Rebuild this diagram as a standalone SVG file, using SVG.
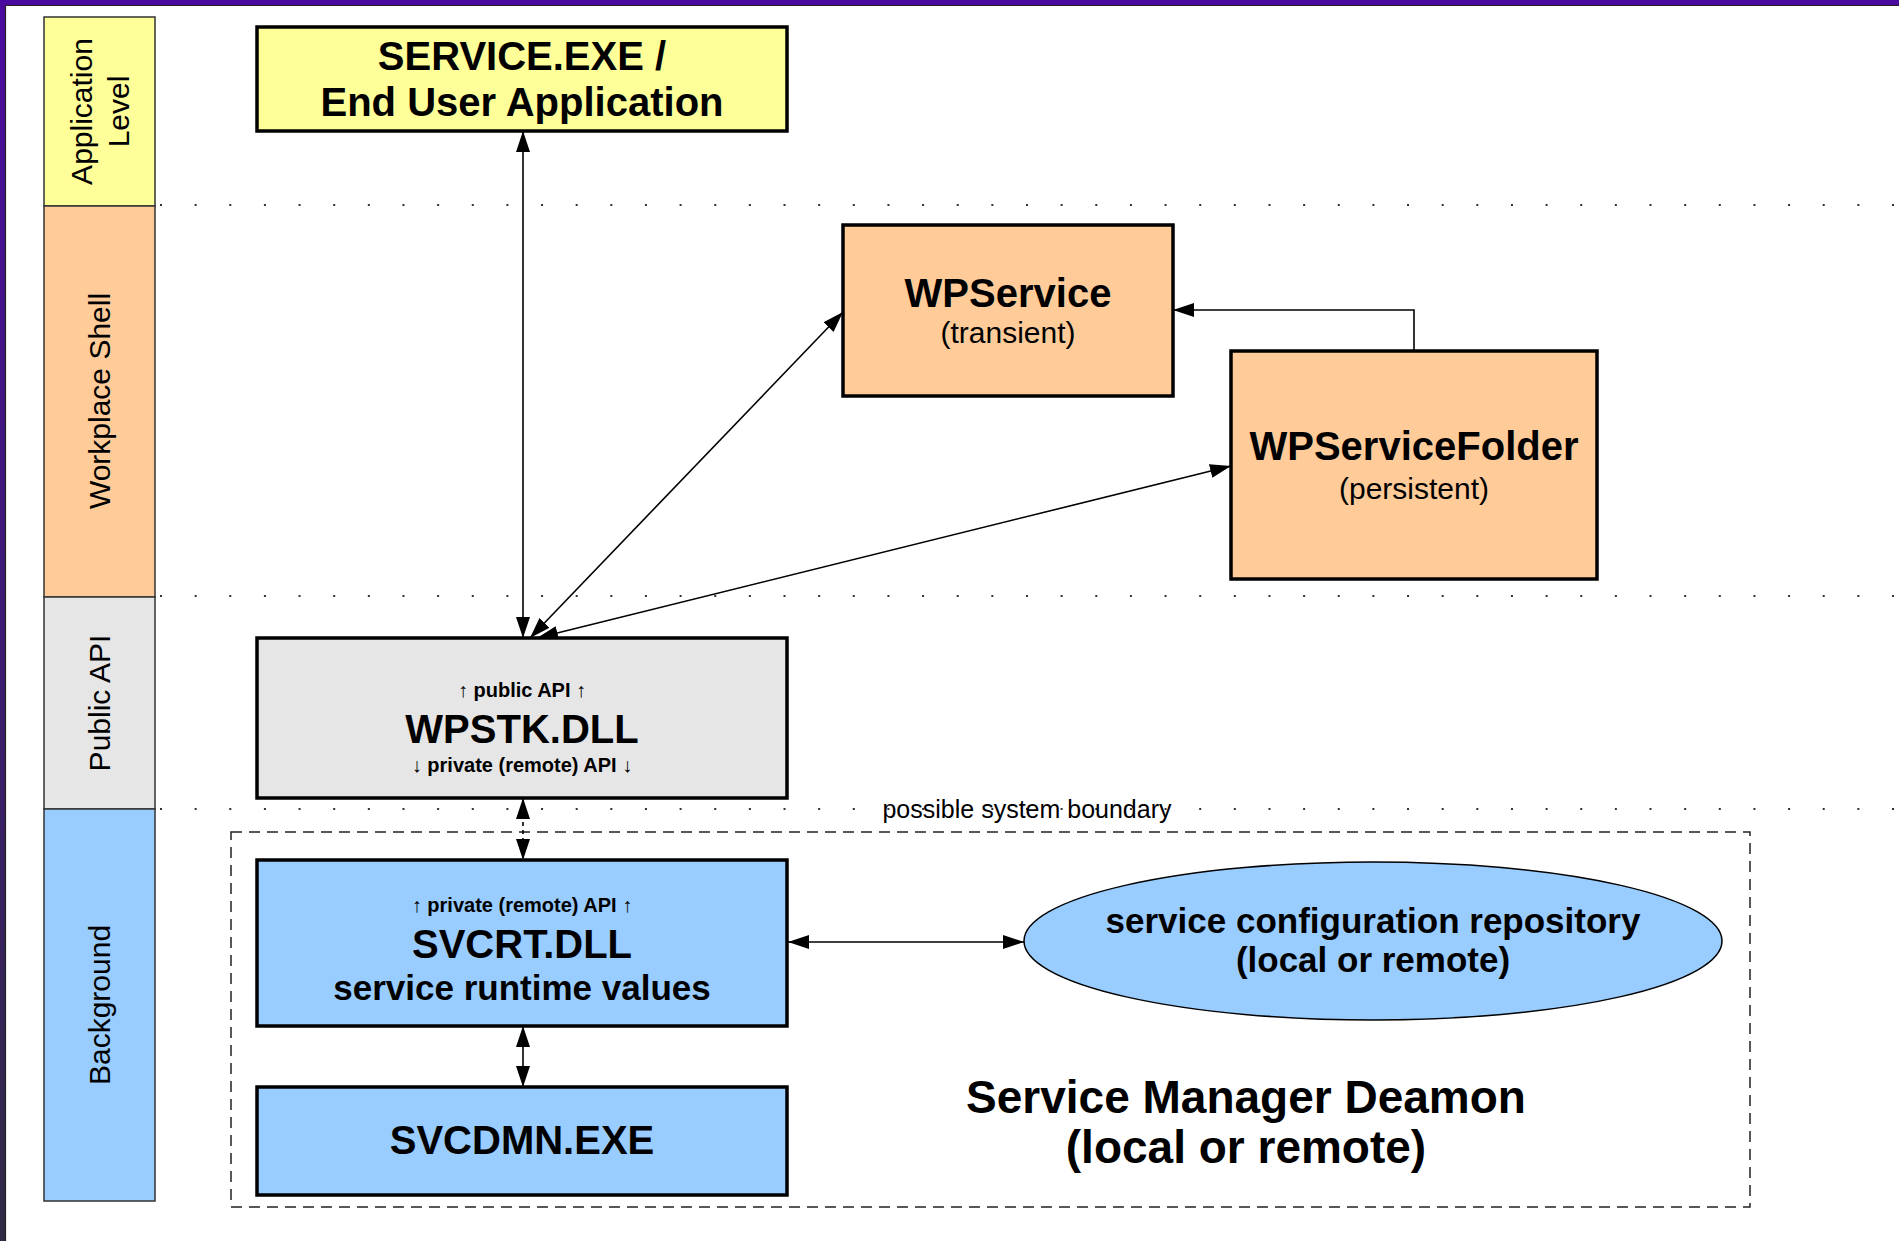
<svg xmlns="http://www.w3.org/2000/svg" width="1899" height="1241" viewBox="0 0 1899 1241">
<style>
.lane{stroke:#333;stroke-width:1.5}
.box{stroke:#000;stroke-width:3.5}
.lt{font-family:"Liberation Sans",Arial,sans-serif;font-size:30px;fill:#000;text-anchor:middle}
.b40{font-family:"Liberation Sans",Arial,sans-serif;font-size:40px;font-weight:bold;fill:#000;text-anchor:middle}
.b35{font-family:"Liberation Sans",Arial,sans-serif;font-size:35px;font-weight:bold;fill:#000;text-anchor:middle}
.b46{font-family:"Liberation Sans",Arial,sans-serif;font-size:46px;font-weight:bold;fill:#000;text-anchor:middle}
.s20{font-family:"Liberation Sans",Arial,sans-serif;font-size:20px;font-weight:bold;fill:#000;text-anchor:middle}
.r30{font-family:"Liberation Sans",Arial,sans-serif;font-size:30px;fill:#000;text-anchor:middle}
.dot{stroke:#333;stroke-width:2;stroke-dasharray:2 32.64;fill:none}
.con{stroke:#000;stroke-width:1.6;fill:none}
</style>
<defs>
<marker id="ah" markerUnits="userSpaceOnUse" markerWidth="21" markerHeight="14" refX="21" refY="7" orient="auto-start-reverse">
<path d="M0,0 L21,7 L0,14 z" fill="#000"/>
</marker>
<linearGradient id="lg" x1="0" y1="0" x2="0" y2="1">
<stop offset="0" stop-color="#4a0aa0"/>
<stop offset="1" stop-color="#302a45"/>
</linearGradient>
</defs>
<rect x="0" y="0" width="1899" height="1241" fill="#fff"/>
<rect x="0" y="0" width="5" height="1241" fill="url(#lg)"/>
<line x1="5.5" y1="5" x2="5.5" y2="1241" stroke="#222" stroke-width="1.2"/>
<rect x="0" y="0" width="1899" height="5" fill="#4a0aa0"/>
<line x1="5" y1="5.5" x2="1899" y2="5.5" stroke="#222" stroke-width="1.2"/>

<g id="lanes">
<rect class="lane" x="44" y="17" width="111" height="189" fill="#ffff99"/>
<rect class="lane" x="44" y="206" width="111" height="391" fill="#ffcc99"/>
<rect class="lane" x="44" y="597" width="111" height="212" fill="#e6e6e6"/>
<rect class="lane" x="44" y="809" width="111" height="392" fill="#99ccff"/>
<text class="lt" transform="translate(91.5,111.5) rotate(-90)">Application</text>
<text class="lt" transform="translate(128.5,111.5) rotate(-90)">Level</text>
<text class="lt" transform="translate(110,401) rotate(-90)">Workplace Shell</text>
<text class="lt" transform="translate(110,703) rotate(-90)">Public API</text>
<text class="lt" transform="translate(110,1005) rotate(-90)">Background</text>
</g>

<g id="separators">
<line class="dot" x1="160" y1="205" x2="1899" y2="205"/>
<line class="dot" x1="160" y1="596" x2="1899" y2="596"/>
<line class="dot" x1="160" y1="809" x2="1899" y2="809"/>
</g>

<g id="boundary">
<rect x="231" y="832" width="1519" height="375" fill="none" stroke="#222" stroke-width="1.5" stroke-dasharray="11 7"/>
<text x="1027" y="818" style="font-family:'Liberation Sans',Arial,sans-serif;font-size:25px;fill:#000;text-anchor:middle">possible system boundary</text>
<text class="b46" x="1246" y="1113">Service Manager Deamon</text>
<text class="b46" x="1246" y="1163">(local or remote)</text>
</g>

<g id="connectors">
<line class="con" x1="523" y1="131" x2="523" y2="638" marker-start="url(#ah)" marker-end="url(#ah)"/>
<line class="con" x1="530" y1="638" x2="843" y2="312" marker-start="url(#ah)" marker-end="url(#ah)"/>
<line class="con" x1="537" y1="638" x2="1231" y2="466" marker-start="url(#ah)" marker-end="url(#ah)"/>
<polyline class="con" points="1414,351 1414,310 1173,310" marker-end="url(#ah)"/>
<line class="con" x1="523" y1="798" x2="523" y2="860" stroke-dasharray="4 4" marker-start="url(#ah)" marker-end="url(#ah)"/>
<line class="con" x1="523" y1="1026" x2="523" y2="1087" marker-start="url(#ah)" marker-end="url(#ah)"/>
<line class="con" x1="788" y1="942" x2="1024" y2="942" marker-start="url(#ah)" marker-end="url(#ah)"/>
</g>

<g id="service-exe">
<rect class="box" x="257" y="27" width="530" height="104" fill="#ffff99"/>
<text class="b40" x="522" y="70">SERVICE.EXE /</text>
<text class="b40" x="522" y="116">End User Application</text>
</g>

<g id="wpservice">
<rect class="box" x="843" y="225" width="330" height="171" fill="#ffcc99"/>
<text class="b40" x="1008" y="307">WPService</text>
<text class="r30" x="1008" y="343">(transient)</text>
</g>

<g id="wpservicefolder">
<rect class="box" x="1231" y="351" width="366" height="228" fill="#ffcc99"/>
<text class="b40" x="1414" y="460">WPServiceFolder</text>
<text class="r30" x="1414" y="499">(persistent)</text>
</g>

<g id="wpstk">
<rect class="box" x="257" y="638" width="530" height="160" fill="#e6e6e6"/>
<text class="s20" x="522" y="697">↑ public API ↑</text>
<text class="b40" x="522" y="743">WPSTK.DLL</text>
<text class="s20" x="522" y="772">↓ private (remote) API ↓</text>
</g>

<g id="svcrt">
<rect class="box" x="257" y="860" width="530" height="166" fill="#99ccff"/>
<text class="s20" x="522" y="912">↑ private (remote) API ↑</text>
<text class="b40" x="522" y="958">SVCRT.DLL</text>
<text class="b35" x="522" y="1000">service runtime values</text>
</g>

<g id="svcdmn">
<rect class="box" x="257" y="1087" width="530" height="108" fill="#99ccff"/>
<text class="b40" x="522" y="1154">SVCDMN.EXE</text>
</g>

<g id="repository">
<ellipse cx="1373" cy="941" rx="349" ry="79" fill="#99ccff" stroke="#000" stroke-width="1.5"/>
<text class="b35" x="1373" y="933">service configuration repository</text>
<text class="b35" x="1373" y="972">(local or remote)</text>
</g>
</svg>
